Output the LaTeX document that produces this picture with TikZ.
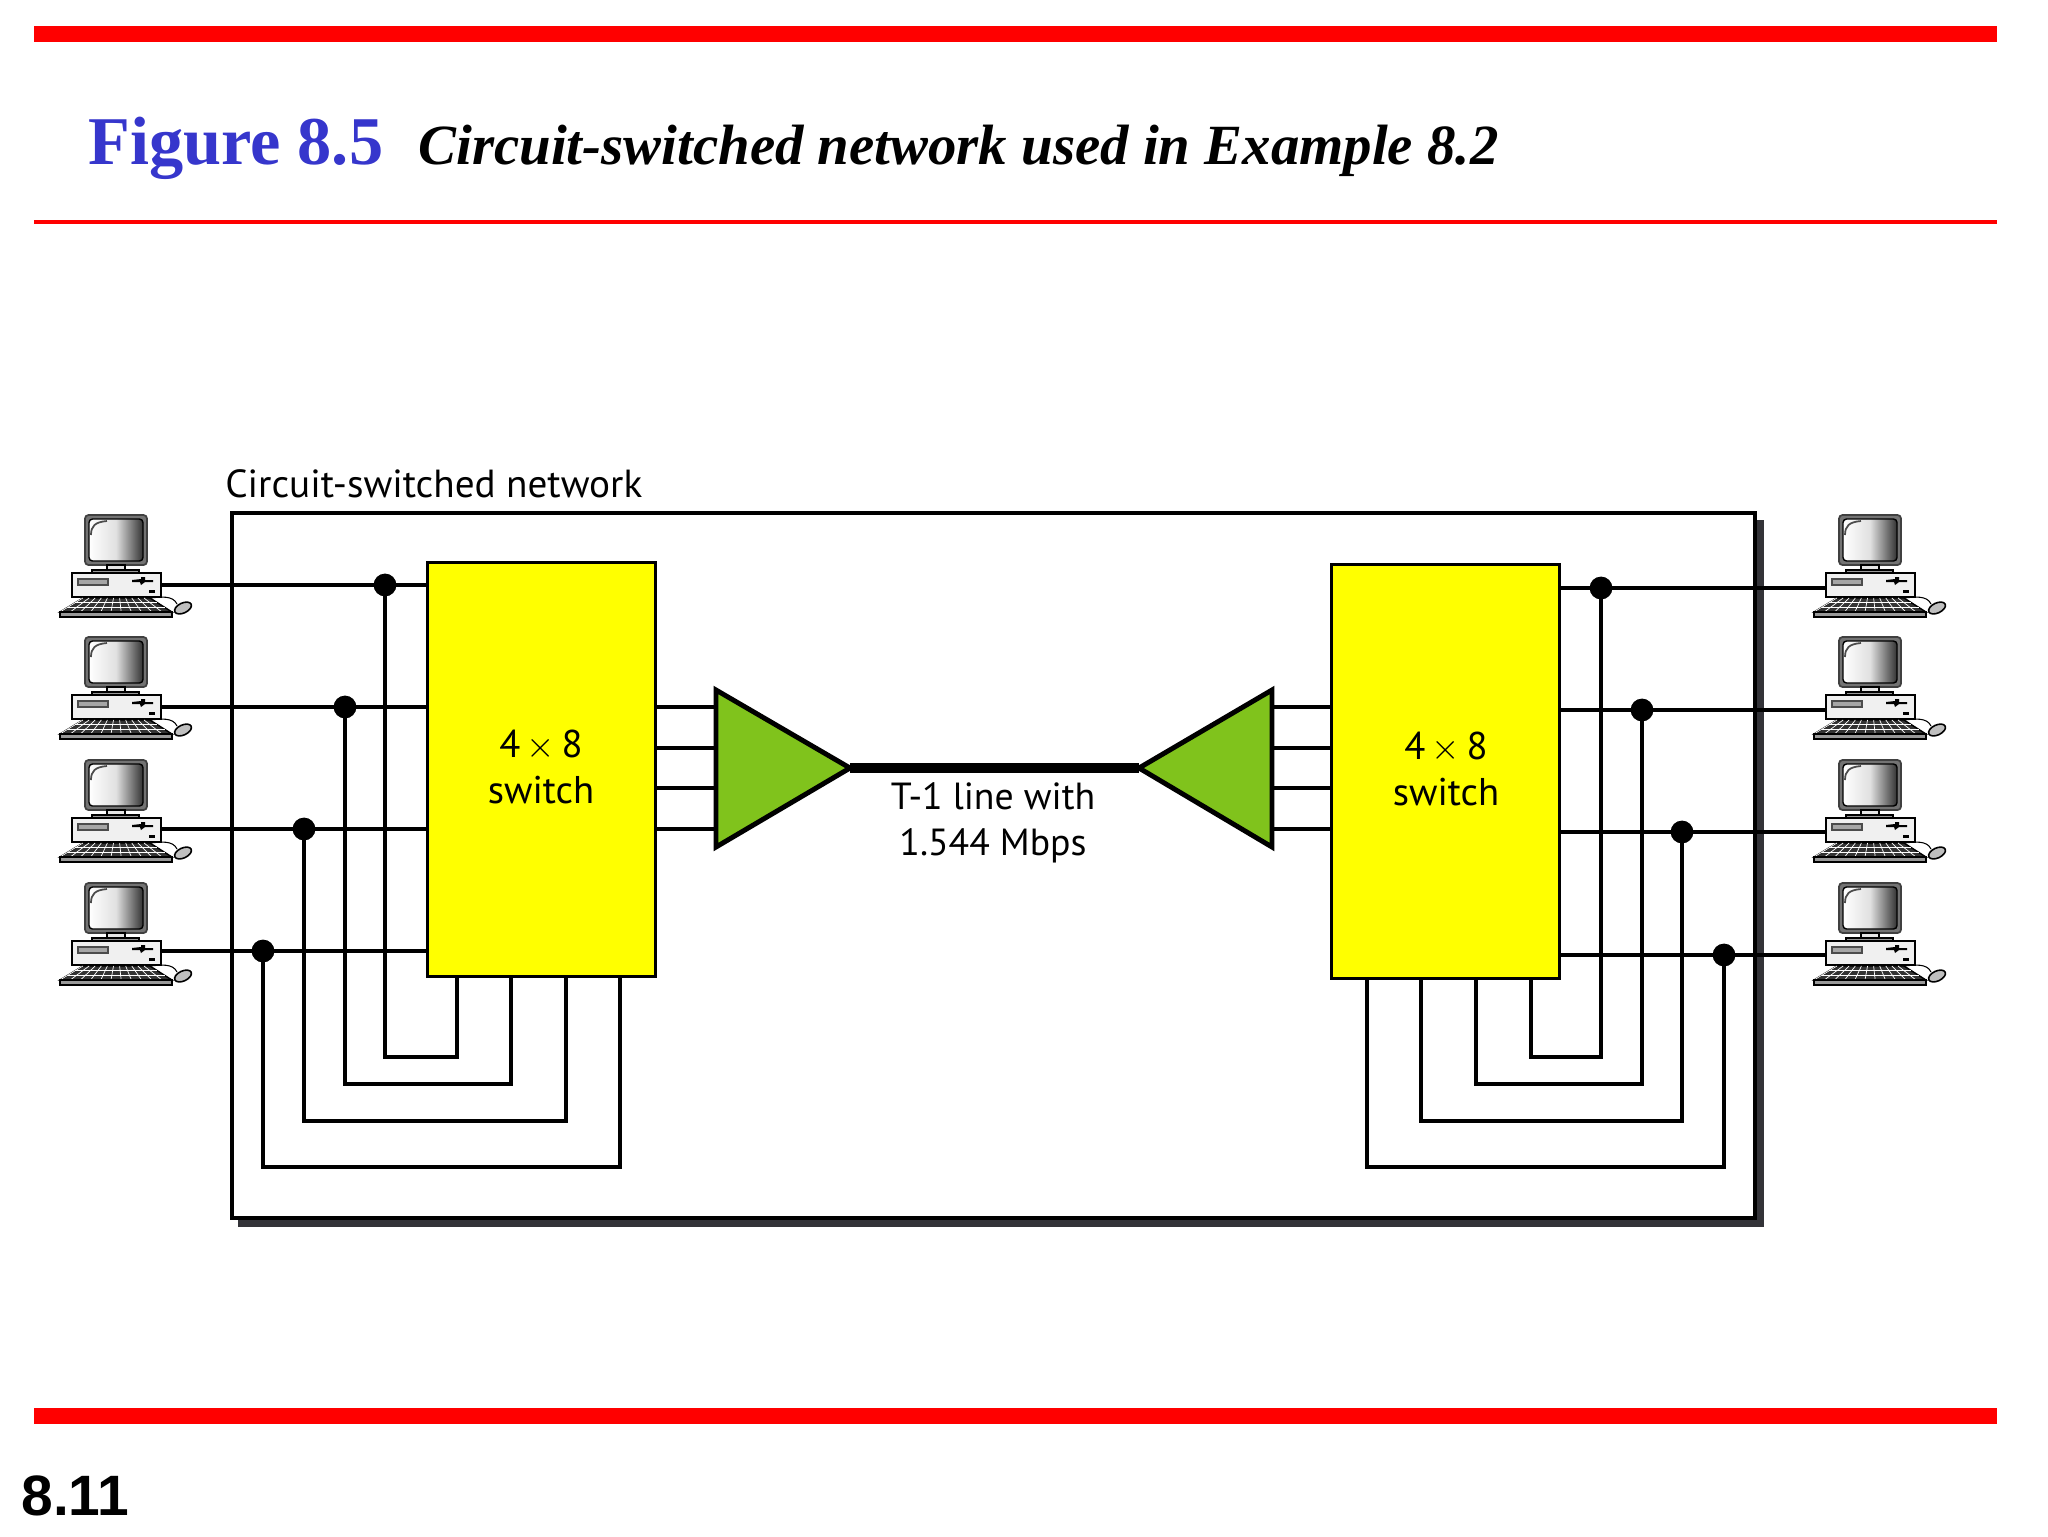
\documentclass[tikz,border=0pt]{standalone}
\usepackage{fontspec}
\setmainfont{Liberation Serif}
\newfontfamily\labelfont{PT Sans}
\newfontfamily\pagefont{Liberation Sans}
\definecolor{rulered}{HTML}{FF0000}
\definecolor{figblue}{HTML}{3636CC}
\definecolor{muxgreen}{HTML}{80C31C}
\definecolor{shadowgrey}{HTML}{333338}
\definecolor{switchyellow}{HTML}{FFFF00}
\tikzset{
  wire/.style={draw=black,line width=2.5pt},
  trunk/.style={draw=black,line width=5.6pt},
  rulebar/.style={fill=rulered,draw=none},
  switchbox/.style={draw=black,line width=1.7pt,fill=switchyellow,anchor=north west,inner sep=0pt,
     minimum width=129.8pt,minimum height=235.9pt},
  muxtri/.style={draw=black,line width=2.8pt,fill=muxgreen,line join=miter},
  junction/.style={circle,fill=black,draw=none,minimum size=13pt,inner sep=0pt},
  textlabel/.style={font=\labelfont\fontsize{22}{26}\selectfont,align=center,inner sep=0pt},
  pc/.pic={
    % monitor
    \draw[line width=1pt,draw=black!75,fill=black!55,rounded corners=2pt] (0,0) rectangle (62,50);
    \shade[left color=white,right color=black!80,middle color=black!12,draw=black,line width=.8pt,rounded corners=2pt] (4,4) rectangle (58,46);
    \draw[black!70,line width=1pt] (6,20) .. controls (6,11) and (10,7) .. (22,6);
    \draw[line width=.8pt,fill=black!10] (22,50) rectangle (40,55);
    \draw[line width=.8pt,fill=black!40] (7,55) rectangle (54,58);
    % case
    \draw[line width=1pt,fill=black!6] (-13,58) rectangle (76,82);
    \draw[line width=.6pt,draw=black!70,fill=black!35] (-7,64) rectangle (23,70);
    \fill[black] (47,65) -- (56,64) -- (56,62) -- (60,62) -- (60,65) -- (68,65) -- (68,67) -- (60,67) -- (56,70) -- (55,67) -- (47,67) -- cycle;
    \fill[black] (64,75) rectangle (70,78);
    % keyboard
    \draw[line width=.8pt,fill=black!80] (-2,83) -- (65,83) -- (87,97) -- (-25,97) -- cycle;
    \foreach \k in {0,...,10} {\draw[white,line width=.4pt] ({\k*6.1-2},83) -- ({\k*10.2-25},97);}
    \foreach \r in {87.6,92.3} {\draw[white,line width=.4pt] ({-2-(\r-83)*1.64},\r) -- ({65+(\r-83)*1.57},\r);}
    \draw[line width=.8pt,fill=black!40] (-25,97) rectangle (87,102);
    % mouse
    \draw[line width=.6pt] (65,83) .. controls (75,82) and (88,80) .. (92,89);
    \draw[line width=.9pt,fill=black!25,rotate around={25:(98,93)}] (98,93) ellipse [x radius=9,y radius=5];
  }
}
\begin{document}
\begin{tikzpicture}[x=0.02cm,y=-0.02cm]
\useasboundingbox (0,0) rectangle (2048,1536);
% title rules
\fill[rulebar] (34,26) rectangle (1997,42);
\fill[rulebar] (34,220) rectangle (1997,224);
\fill[rulebar] (34,1408) rectangle (1997,1424);
\node[anchor=base west,inner sep=0pt,text=figblue,font=\fontsize{38.9}{40}\selectfont\bfseries] (figno) at (88,164) {Figure 8.5};
\node[anchor=base west,inner sep=0pt,font=\fontsize{32.35}{36}\selectfont\bfseries\itshape] (figtitle) at (418,164) {Circuit-switched network used in Example 8.2};
\node[anchor=base west,inner sep=0pt,font=\pagefont\fontsize{32.4}{34}\selectfont\bfseries] (pageno) at (21,1515) {8.11};
% network frame
\fill[shadowgrey] (238,520) rectangle (1764,1227);
\draw[line width=2.7pt,fill=white] (232,513) rectangle (1755,1218);
\node[textlabel,anchor=base west,font=\labelfont\fontsize{22.3}{26}\selectfont] (netlabel) at (225,497) {Circuit-switched network};
% computers
\foreach \t [count=\i] in {515,637,760,883} {
  \pic (pcl\i) at (85,\t) {pc};
  \pic (pcr\i) at (1839,\t) {pc};
}
\foreach \y [count=\i] in {585,707,829,951} {\coordinate (pl\i) at (161,\y);}
\foreach \y [count=\i] in {588,710,832,955} {\coordinate (pr\i) at (1826,\y);}
% switches
\node[switchbox] (swl) at (426,561) {};
\node[switchbox] (swr) at (1330,563) {};
\node[textlabel] (swltext) at (541,767) {4\,$\times$\,8\\switch};
\node[textlabel] (swrtext) at (1446,769) {4\,$\times$\,8\\switch};
% junctions
\foreach \x/\y [count=\i] in {385/585,345/707,304/829,263/951} {\node[junction] (jl\i) at (\x,\y) {};}
\foreach \x/\y [count=\i] in {1601/588,1642/710,1682/832,1724/955} {\node[junction] (jr\i) at (\x,\y) {};}
% bends
\foreach \x/\y [count=\i] in {457/1057,511/1084,566/1121,620/1167} {\coordinate (bl\i) at (\x,\y);}
\foreach \x/\y [count=\i] in {1531/1057,1476/1084,1421/1121,1367/1167} {\coordinate (br\i) at (\x,\y);}
% computer to switch wires
\foreach \i in {1,...,4} {
  \draw[wire] (pl\i) -- (pl\i -| swl.west);
  \draw[wire] (pr\i) -- (pr\i -| swr.east);
  \draw[wire] (jl\i.center) -- (jl\i |- bl\i) -- (bl\i) -- (bl\i |- swl.south);
  \draw[wire] (jr\i.center) -- (jr\i |- br\i) -- (br\i) -- (br\i |- swr.south);
}
% multiplexers
\coordinate (mla) at (716,690); \coordinate (mlb) at (716,847); \coordinate (mlt) at (850,768);
\coordinate (mra) at (1272,690); \coordinate (mrb) at (1272,847); \coordinate (mrt) at (1139,768);
\foreach \y [count=\i] in {707,748,788,829} {
  \coordinate (tl\i) at (716,\y);
  \coordinate (tr\i) at (1272,\y);
  \draw[wire] (tl\i -| swl.east) -- (tl\i);
  \draw[wire] (tr\i -| swr.west) -- (tr\i);
}
\draw[muxtri] (mla) -- (mlt) -- (mlb) -- cycle;
\draw[muxtri] (mra) -- (mrt) -- (mrb) -- cycle;
\draw[trunk] (mlt) -- (mrt);
\node[textlabel,font=\labelfont\fontsize{21.5}{26}\selectfont] (t1label) at (993,823) {T-1 line with\\1.544 Mbps};
\end{tikzpicture}
\end{document}
